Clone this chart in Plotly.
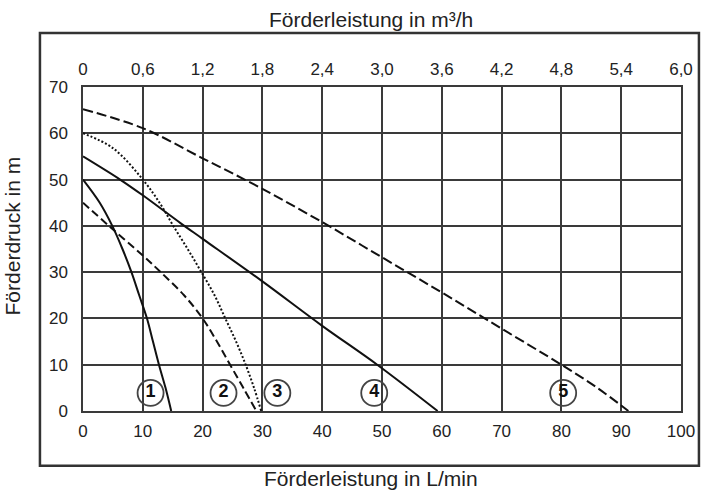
import plotly.graph_objects as go

# ---- data ----
x_ticks_lmin = [0, 10, 20, 30, 40, 50, 60, 70, 80, 90, 100]
x_ticks_m3h = [0, 0.6, 1.2, 1.8, 2.4, 3.0, 3.6, 4.2, 4.8, 5.4, 6.0]
x_ticktext_m3h = ["0", "0,6", "1,2", "1,8", "2,4", "3,0", "3,6", "4,2", "4,8", "5,4", "6,0"]
y_ticks = [0, 10, 20, 30, 40, 50, 60, 70]

c1_q = [0, 2.8, 4.9, 6.6, 8.1, 9.4, 10.7, 11.7, 12.7, 13.8, 14.75]
c1_h = [50, 45, 40, 35, 30, 25, 20, 15, 10, 5, 0]

c2_q = [0, 4.5, 10, 13.0, 16.9, 20, 22.4, 24.6, 26.8, 29.0]
c2_h = [45, 39.8, 33.6, 30, 25, 20, 15, 10, 5, 0]

c3_q = [0, 5, 10, 13.0, 15.1, 17.5, 19.8, 22, 23.8, 25.6, 27.2, 28.6, 29.8]
c3_h = [60, 56.8, 50, 44.6, 40, 35, 30, 25, 20, 15, 10, 5, 0]

c4_q = [0, 6.2, 10, 16.3, 20, 30, 40, 49.2, 59.3]
c4_h = [55, 50, 46.6, 40.6, 37.2, 28, 18.4, 10, 0]

c5_q = [0, 10, 20, 30, 40, 50, 60, 70, 80, 86, 91.2]
c5_h = [65.2, 61.1, 54.6, 48, 40.8, 33.2, 25.6, 17.8, 10, 5, 0]

label_text = ["1", "2", "3", "4", "5"]
label_q = [11.3, 23.5, 32.5, 48.7, 80.3]
label_h = [3.9, 3.9, 3.9, 3.9, 3.9]

FONT = "Liberation Sans, Arial, sans-serif"
INK = "#111111"
GRID = "#3a3a3a"

fig = go.Figure()

curves = [
    (c1_q, c1_h, "solid", "Pumpe 1"),
    (c2_q, c2_h, "8px,4px", "Pumpe 2"),
    (c3_q, c3_h, "2px,2px", "Pumpe 3"),
    (c4_q, c4_h, "solid", "Pumpe 4"),
    (c5_q, c5_h, "10px,4px", "Pumpe 5"),
]
for q, h, dash, name in curves:
    fig.add_trace(go.Scatter(
        x=q, y=h, mode="lines", name=name,
        line=dict(color=INK, width=2, dash=dash, shape="spline", smoothing=1.0),
        hoverinfo="skip",
    ))

fig.add_trace(go.Scatter(
    x=label_q, y=label_h, mode="markers+text", text=label_text,
    textposition="middle center",
    textfont=dict(family=FONT, size=18, color=INK, weight="bold"),
    marker=dict(symbol="circle", size=26, color="rgba(255,255,255,0)",
                line=dict(color="#444444", width=1.8)),
    hoverinfo="skip", showlegend=False,
))

# invisible trace for the top axis
fig.add_trace(go.Scatter(x=[0, 6], y=[0, 0], xaxis="x2", mode="markers",
                         marker=dict(opacity=0), hoverinfo="skip", showlegend=False))

fig.update_layout(
    width=707, height=491,
    margin=dict(l=83, r=13, t=87, b=80),
    paper_bgcolor="white", plot_bgcolor="white",
    showlegend=False,
    font=dict(family=FONT, size=17, color="#222222"),
    xaxis=dict(
        range=[0, 100], tickvals=x_ticks_lmin, ticks="",
        showgrid=True, gridcolor=GRID, gridwidth=1.5, zeroline=False,
        showline=True, mirror=True, linecolor=GRID, linewidth=1.5,
        tickfont=dict(size=17), ticklabelstandoff=4,
    ),
    xaxis2=dict(
        range=[0, 6], overlaying="x", side="top", tickvals=x_ticks_m3h,
        ticktext=x_ticktext_m3h, ticks="", showgrid=False, zeroline=False,
        showline=False, tickfont=dict(size=17), ticklabelstandoff=8,
    ),
    yaxis=dict(
        range=[0, 70], tickvals=y_ticks, ticks="",
        showgrid=True, gridcolor=GRID, gridwidth=1.5, zeroline=False,
        showline=True, mirror=True, linecolor=GRID, linewidth=1.5,
        tickfont=dict(size=17), ticklabelstandoff=10,
    ),
    shapes=[dict(type="rect", xref="paper", yref="paper",
                 x0=-0.072, x1=1.03, y0=-0.169, y1=1.167,
                 line=dict(color="#333333", width=2.5), layer="below")],
    annotations=[
        dict(text="Förderleistung in m³/h", xref="paper", yref="paper",
             x=0.481, y=1.207, xanchor="center", yanchor="middle",
             showarrow=False, font=dict(size=21, color="#222222")),
        dict(text="Förderleistung in L/min", xref="paper", yref="paper",
             x=0.481, y=-0.207, xanchor="center", yanchor="middle",
             showarrow=False, font=dict(size=21, color="#222222")),
        dict(text="Förderdruck in m", xref="paper", yref="paper",
             x=-0.118, y=0.54, xanchor="center", yanchor="middle", textangle=-90,
             showarrow=False, font=dict(size=21, color="#222222")),
    ],
)

fig.write_html("out.html", config={"displayModeBar": False},
               post_script="document.body.style.margin='0';")
